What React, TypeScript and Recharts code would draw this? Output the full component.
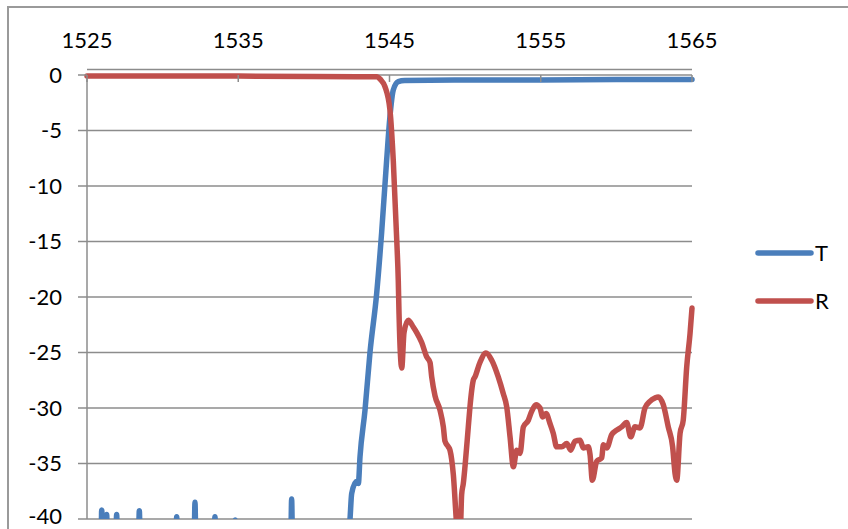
import React from "react";
import { LineChart, Line, XAxis, YAxis, CartesianGrid, ReferenceLine } from "recharts";

// wavelength (nm) ticks on the top axis, dB ticks on the left
const xTicks = [1525, 1535, 1545, 1555, 1565];
const yTicks = [0, -5, -10, -15, -20, -25, -30, -35, -40];

// T: transmission, noise floor sits below -40 with a few spikes
const tWavelength = [
  1525, 1525.93, 1525.97, 1526.05, 1526.25, 1526.3, 1526.36, 1526.9, 1526.96, 1527.02,
  1528.4, 1528.46, 1528.52, 1530.87, 1530.93, 1530.99, 1532.08, 1532.14, 1532.2,
  1533.4, 1533.46, 1533.52, 1534.74, 1534.8, 1534.86, 1538.47, 1538.53, 1538.59,
  1542.28, 1542.39, 1542.5, 1542.83, 1542.94, 1543.05, 1543.38, 1543.71, 1544.15,
  1544.48, 1544.81, 1545.03, 1545.25, 1545.58, 1546, 1550, 1555, 1560, 1565,
];
const tValues = [
  -42, -42, -39.2, -41, -41, -39.6, -42, -42, -39.6, -42,
  -42, -39.25, -42, -42, -39.8, -42, -42, -38.5, -42,
  -42, -39.8, -42, -42, -40.1, -42, -42, -38.2, -42,
  -42, -40, -37.7, -36.6, -36.8, -34.4, -30.2, -25, -19.7,
  -14.2, -7.7, -3.75, -1.35, -0.6, -0.5, -0.45, -0.45, -0.4, -0.4,
];

// R: reflection
const rWavelength = [
  1525, 1535, 1543.5, 1544.15, 1544.4, 1544.7, 1545.03, 1545.25, 1545.48, 1545.58,
  1545.63, 1545.81, 1545.96, 1546.24, 1546.57, 1546.8, 1547.13, 1547.46, 1547.68, 1547.79,
  1548.01, 1548.34, 1548.56, 1548.67, 1548.89, 1549.0, 1549.22, 1549.44, 1549.55, 1549.7,
  1549.77, 1549.88, 1549.99, 1550.21, 1550.32, 1550.54, 1550.65, 1550.98, 1551.38, 1551.76,
  1552.19, 1552.52, 1552.75, 1552.97, 1553.19, 1553.41, 1553.63, 1553.85, 1554.18, 1554.4,
  1554.69, 1554.95, 1555.13, 1555.35, 1555.61, 1555.83, 1556.05, 1556.39, 1556.72, 1556.98,
  1557.26, 1557.6, 1557.81, 1558.14, 1558.26, 1558.41, 1558.7, 1559.03, 1559.14, 1559.36,
  1559.69, 1560.02, 1560.35, 1560.68, 1560.95, 1561.23, 1561.56, 1561.89, 1562.22, 1562.55,
  1562.77, 1563.1, 1563.43, 1563.72, 1563.88, 1563.99, 1564.21, 1564.42, 1564.65, 1564.87,
  1565,
];
const rValues = [
  -0.1, -0.1, -0.15, -0.15, -0.4, -1.05, -3.15, -7.7, -14.9, -18.5,
  -21.5, -26.4, -23.2, -22.1, -22.7, -23.2, -24.1, -25.4, -25.9, -27.2,
  -28.9, -30.2, -31.7, -33.0, -33.5, -33.8, -36.0, -40.5, -42, -40.5,
  -37.8, -36.8, -35.3, -31.7, -29.9, -27.5, -27.2, -25.9, -25.05, -25.7,
  -27.2, -28.7, -29.9, -32.6, -35.3, -33.8, -34.1, -31.7, -31.1, -30.3,
  -29.7, -30.0, -30.8, -30.5, -31.4, -32.3, -33.5, -33.5, -33.2, -33.8,
  -33.0, -32.9, -33.6, -33.5, -34.2, -36.5, -34.8, -34.5, -33.3, -33.6,
  -32.4, -32.0, -31.7, -31.3, -32.6, -31.7, -31.8, -30.0, -29.4, -29.1,
  -29.0, -29.7, -31.7, -33.5, -35.9, -36.5, -32.3, -31.1, -26.3, -23.3,
  -21.0,
];

const tData = tWavelength.map((x, i) => ({ x, y: tValues[i] }));
const rData = rWavelength.map((x, i) => ({ x, y: rValues[i] }));

const BLUE = "#4a7ebb";
const RED = "#c0504d";
const GRID = "#8c8c8c";
const FONT = "Lato, 'Open Sans', sans-serif";

// the plot area starts a little above 0 so the flat R line is not clipped;
// the top axis line itself is the 0 gridline, 5.5px lower
const TopTick = (props: any) => {
  const { x, y, payload } = props;
  const axisY = y + 5.5;
  return (
    <g>
      <line x1={x} x2={x} y1={axisY} y2={axisY + 7} stroke={GRID} strokeWidth={1.5} />
      <text x={x} y={axisY - 27} textAnchor="middle" fontSize={22} fontFamily={FONT} fill="#000">
        {payload.value}
      </text>
    </g>
  );
};

const LegendBox = () => (
  <svg width={90} height={80} style={{ position: "absolute", left: 755, top: 240 }}>
    <line x1={3} x2={56} y1={13} y2={13} stroke={BLUE} strokeWidth={5.5} strokeLinecap="round" />
    <text x={60} y={21} fontSize={22} fontFamily={FONT} fill="#000">T</text>
    <line x1={3} x2={56} y1={61} y2={61} stroke={RED} strokeWidth={5.5} strokeLinecap="round" />
    <text x={60} y={69} fontSize={22} fontFamily={FONT} fill="#000">R</text>
  </svg>
);

export default function App() {
  return (
    <div
      style={{
        position: "absolute",
        left: 0,
        top: 0,
        width: 848,
        height: 529,
        overflow: "hidden",
        background: "#fff",
      }}
    >
      <div
        style={{
          position: "absolute",
          left: 7,
          top: 6,
          width: 900,
          height: 600,
          border: "2px solid #9a9a9a",
        }}
      />
      <div style={{ position: "absolute", left: 0, top: 0 }}>
        <LineChart width={848} height={529} margin={{ top: 0, right: 156, bottom: 10, left: 0 }}>
          <CartesianGrid vertical={false} stroke={GRID} strokeWidth={1.5} />
          <XAxis
            orientation="top"
            type="number"
            dataKey="x"
            domain={[1525, 1565]}
            ticks={xTicks}
            height={69.45}
            axisLine={false}
            tickLine={false}
            tickSize={0}
            tickMargin={0}
            tick={<TopTick />}
          />
          <YAxis
            type="number"
            domain={[-40, 0.5]}
            ticks={yTicks}
            width={87}
            allowDataOverflow
            axisLine={false}
            tickLine={{ stroke: GRID, strokeWidth: 1.5 }}
            tickSize={9}
            tickMargin={16}
            tick={{ fontSize: 22, fontFamily: FONT, fill: "#000" }}
          />
          <ReferenceLine
            segment={[
              { x: 1525, y: 0 },
              { x: 1525, y: -40 },
            ]}
            stroke={GRID}
            strokeWidth={1.5}
          />
          <Line
            data={tData}
            dataKey="y"
            name="T"
            stroke={BLUE}
            strokeWidth={5.5}
            dot={false}
            type="monotoneX"
            strokeLinejoin="round"
            strokeLinecap="round"
            isAnimationActive={false}
          />
          <Line
            data={rData}
            dataKey="y"
            name="R"
            stroke={RED}
            strokeWidth={5.5}
            dot={false}
            type="monotoneX"
            strokeLinejoin="round"
            strokeLinecap="round"
            isAnimationActive={false}
          />
        </LineChart>
      </div>
      <LegendBox />
    </div>
  );
}
